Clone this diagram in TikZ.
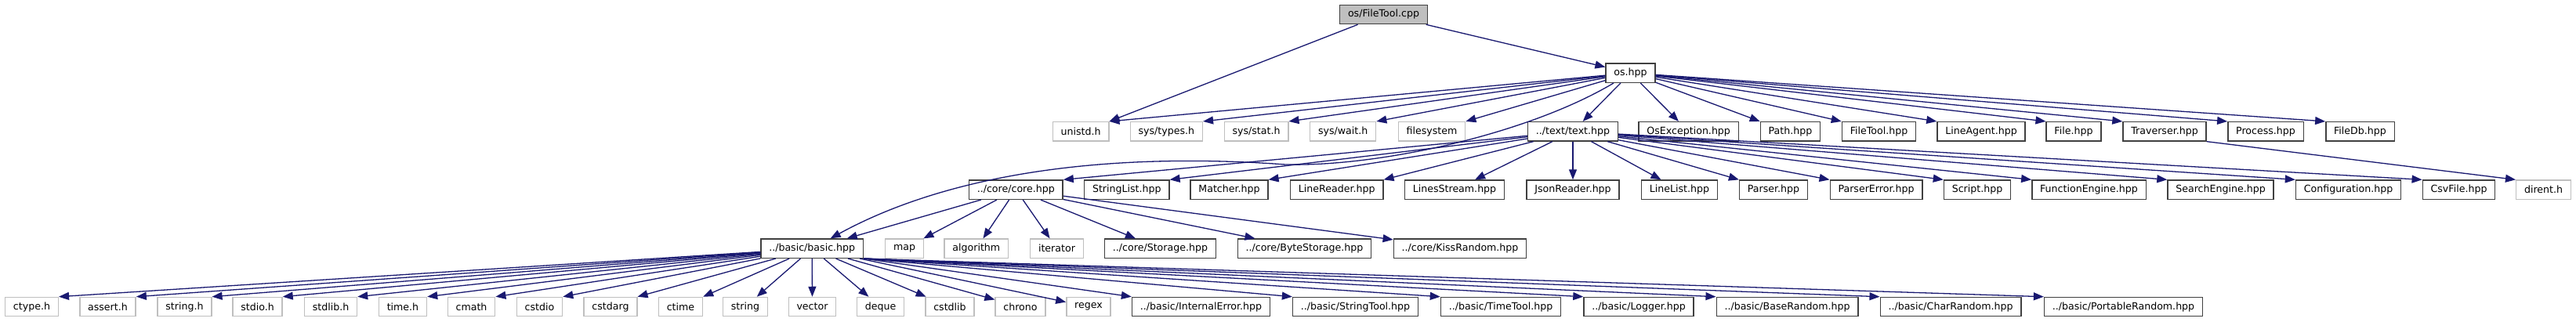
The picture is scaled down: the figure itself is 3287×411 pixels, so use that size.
\documentclass[tikz,border=0pt]{standalone}
\usepackage{fontspec}
\setmainfont{DejaVu Sans}
\usetikzlibrary{arrows.meta}
\definecolor{depblue}{HTML}{191970}
\definecolor{nodegrey}{HTML}{404040}
\definecolor{extgrey}{HTML}{BFBFBF}
\tikzset{
  >={Triangle[length=6.5pt,width=5pt]},
  box/.style={rectangle, draw=nodegrey, fill=white, line width=0.7pt, minimum height=12.15pt,
              inner xsep=5.15pt, inner ysep=0pt, font=\fontsize{6.3}{7.5}\selectfont},
  boxe/.style={box, draw=extgrey},
  boxr/.style={box, fill=extgrey},
  flow/.style={->, line width=0.65pt, draw=depblue},
}

\begin{document}
\begin{tikzpicture}[x=0.5pt, y=0.5pt]
  \useasboundingbox (0,0) rectangle (3287,411);
  \node[boxr] (root) at (1765.5,392.5) {os/FileTool.cpp};
  \node[box] (oshpp) at (2080.5,317.8) {os.hpp};
  % row of os.hpp includes
  \foreach \n/\x/\l in {unistd/1379/unistd.h, systypes/1488.3/{sys/types.h}, sysstat/1603/{sys/stat.h},
      syswait/1713.7/{sys/wait.h}, filesys/1827/filesystem}
    \node[boxe] (\n) at (\x,243.2) {\l};
  \foreach \n/\x/\l in {texthpp/2007/{../text/text.hpp}, osexc/2154.7/OsException.hpp, pathhpp/2284.5/Path.hpp,
      filetool/2397.5/FileTool.hpp, lineagent/2528/LineAgent.hpp, filehpp/2646/File.hpp,
      traverser/2762/Traverser.hpp, process/2891/Process.hpp, filedb/3011.5/FileDb.hpp}
    \node[box] (\n) at (\x,243.2) {\l};
  % row of text.hpp includes
  \foreach \n/\x/\l in {core/1296.3/{../core/core.hpp}, stringlist/1437.8/StringList.hpp, matcher/1568.5/Matcher.hpp,
      linereader/1705.7/LineReader.hpp, linesstream/1856/LinesStream.hpp, jsonreader/2007/JsonReader.hpp,
      linelist/2143/LineList.hpp, parser/2263/Parser.hpp, parsererror/2394/ParserError.hpp,
      script/2523/Script.hpp, funcengine/2665.5/FunctionEngine.hpp, searchengine/2833.5/SearchEngine.hpp,
      config/2996.5/Configuration.hpp, csvfile/3137.5/CsvFile.hpp}
    \node[box] (\n) at (\x,168.8) {\l};
  \node[boxe] (dirent) at (3245.5,168.8) {dirent.h};
  % row of core.hpp includes
  \foreach \n/\x/\l in {basic/1036.2/{../basic/basic.hpp}, storage/1480.5/{../core/Storage.hpp},
      bytestorage/1664.5/{../core/ByteStorage.hpp}, kissrandom/1863/{../core/KissRandom.hpp}}
    \node[box] (\n) at (\x,93.8) {\l};
  \foreach \n/\x/\l in {map/1154/map, algorithm/1245.8/algorithm, iterator/1348.5/iterator}
    \node[boxe] (\n) at (\x,93.8) {\l};
  % row of basic.hpp includes
  \foreach \n/\x/\l in {ctypeh/40.5/ctype.h, asserth/137.5/assert.h, stringh/235.5/string.h, stdioh/328.5/stdio.h,
      stdlibh/422/stdlib.h, timeh/514/time.h, cmath/601.5/cmath, cstdio/688.5/cstdio, cstdarg/779/cstdarg,
      ctime/868.5/ctime, string/951/string, vector/1036.5/vector, deque/1123.5/deque, cstdlib/1212/cstdlib,
      chrono/1302/chrono, regex/1389/regex}
    \node[boxe] (\n) at (\x,19.4) {\l};
  \foreach \n/\x/\l in {interr/1532.5/{../basic/InternalError.hpp}, stringtool/1729.5/{../basic/StringTool.hpp},
      timetool/1915/{../basic/TimeTool.hpp}, logger/2091/{../basic/Logger.hpp},
      baserandom/2280.5/{../basic/BaseRandom.hpp}, charrandom/2489/{../basic/CharRandom.hpp},
      portrandom/2709.5/{../basic/PortableRandom.hpp}}
    \node[box] (\n) at (\x,19.4) {\l};

  % dependencies
  \draw[flow] (root) -- (unistd.north east);
  \draw[flow] (root) -- (oshpp);
  \foreach \n in {unistd, systypes, sysstat, syswait, filesys}
    \draw[flow] (oshpp) -- (\n.north east);
  \draw[flow] (oshpp) -- (texthpp);
  \draw[flow] (oshpp) -- (osexc);
  \foreach \n in {pathhpp, filetool, lineagent, filehpp, traverser, process, filedb}
    \draw[flow] (oshpp) -- (\n.north west);
  \draw[flow] (oshpp) .. controls (1950,240) and (1760,198) .. (1640,201)
                      .. controls (1450,215) and (1230,200) .. (basic);
  \foreach \n in {core, stringlist, matcher, linereader}
    \draw[flow] (texthpp) -- (\n.north east);
  \foreach \n in {linesstream, jsonreader, linelist}
    \draw[flow] (texthpp) -- (\n);
  \foreach \n in {parser, parsererror, script, funcengine, searchengine, config, csvfile}
    \draw[flow] (texthpp) -- (\n.north west);
  \draw[flow] (traverser.south east) -- (dirent.north west);
  \foreach \n in {basic, map, algorithm, iterator, storage, bytestorage, kissrandom}
    \draw[flow] (core) -- (\n);
  \foreach \n in {ctypeh, asserth, stringh, stdioh, stdlibh, timeh, cmath, cstdio, cstdarg, ctime}
    \draw[flow] (basic) -- (\n.north east);
  \foreach \n in {string, vector, deque, cstdlib, chrono, regex}
    \draw[flow] (basic) -- (\n);
  \foreach \n in {interr, stringtool, timetool, logger, baserandom, charrandom, portrandom}
    \draw[flow] (basic.south east) -- (\n.north west);
\end{tikzpicture}
\end{document}
